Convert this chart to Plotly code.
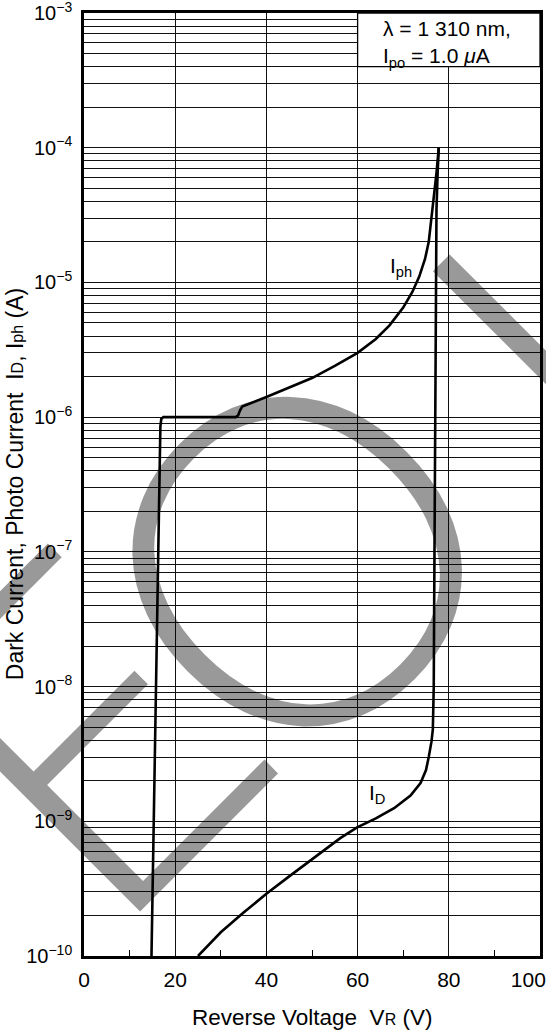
import math
import plotly.graph_objects as go

# ---- data ----
iph_v = [14.8, 15.2, 15.8, 16.3, 16.6, 16.75, 16.95, 17.4, 33.3, 33.8, 34.2, 34.7, 40.0, 45.0, 50.0, 55.0, 60.0, 64.0, 67.0, 70.0, 72.0, 73.5, 74.8, 75.6, 76.2, 76.8, 77.3, 77.8]
iph_i = [1e-10, 6e-10, 1e-8, 1e-7, 4e-7, 8.5e-7, 9.7e-7, 1.0e-6, 1.0e-6, 1.03e-6, 1.12e-6, 1.2e-6, 1.41e-6, 1.65e-6, 1.95e-6, 2.4e-6, 3.0e-6, 3.8e-6, 4.8e-6, 6.5e-6, 8.5e-6, 1.1e-5, 1.5e-5, 2.0e-5, 3.0e-5, 4.5e-5, 6.5e-5, 1.0e-4]

id_v = [25.0, 30.0, 35.0, 40.0, 45.0, 50.0, 56.2, 59.9, 64.0, 68.0, 71.6, 73.8, 75.0, 75.6, 76.2, 76.5, 76.7, 76.8, 76.95, 77.1, 77.3, 77.55, 77.8]
id_i = [1e-10, 1.5e-10, 2.1e-10, 2.9e-10, 3.9e-10, 5.2e-10, 7.5e-10, 9.0e-10, 1.05e-9, 1.25e-9, 1.55e-9, 1.92e-9, 2.4e-9, 3.0e-9, 3.9e-9, 4.8e-9, 1e-8, 4.5e-8, 5e-7, 5e-6, 3.5e-5, 6.5e-5, 1.0e-4]

x_ticks = [0, 20, 40, 60, 80, 100]
x_labels = ["0", "20", "40", "60", "80", "100\u00a0\u00a0\u00a0\u00a0"]
x_minor = [10, 30, 50, 70, 90]
decades = [-10, -9, -8, -7, -6, -5, -4, -3]

# watermark letters and their paper positions
wm_letters = ["E", "O", "L"]
wm_x = [-0.02, 0.443, 1.10]
wm_y = [0.245, 0.43, 0.667]

FONT = "Liberation Sans, Arial, sans-serif"

yvals, ytext = [], []
for d in decades:
    for m in range(1, 10):
        if d == -3 and m > 1:
            break
        yvals.append(m * 10.0 ** d)
        ytext.append("10<sup>\u2212%d</sup>" % (-d) if m == 1 else "")

fig = go.Figure()
fig.add_trace(go.Scatter(x=iph_v, y=iph_i, mode="lines",
                         line=dict(color="black", width=2.6), showlegend=False))
fig.add_trace(go.Scatter(x=id_v, y=id_i, mode="lines",
                         line=dict(color="black", width=2.6), showlegend=False))

# white condition box, top right
fig.add_shape(type="rect", xref="x", yref="y", x0=60, x1=100, y0=4e-4, y1=1e-3,
              fillcolor="white", line=dict(color="black", width=1.3), layer="between")

fig.update_layout(
    width=546, height=1030,
    margin=dict(l=84, r=6, t=13, b=74),
    paper_bgcolor="white", plot_bgcolor="white",
    font=dict(family=FONT, color="black", size=21),
    xaxis=dict(range=[0, 100], tickvals=x_ticks, ticktext=x_labels, ticks="",
               showgrid=True, gridcolor="#111", gridwidth=1.3, zeroline=False,
               showline=True, linecolor="black", linewidth=2.6, mirror=True,
               tickfont=dict(size=21), ticklabelstandoff=3, automargin=False,
               ticklabeloverflow="allow",
               minor=dict(tickvals=x_minor, ticks="inside", ticklen=6,
                          tickwidth=1.3, tickcolor="black", showgrid=False)),
    yaxis=dict(type="log", range=[-10, -3], tickvals=yvals, ticktext=ytext,
               ticks="", showgrid=True, gridcolor="#111", gridwidth=1.3,
               zeroline=False, showline=True, linecolor="black", linewidth=2.6,
               mirror=True, tickfont=dict(size=20), ticklabelstandoff=5,
               automargin=False, ticklabeloverflow="allow"),
)

ann = []
for t, xx, yy in zip(wm_letters, wm_x, wm_y):
    ann.append(dict(text=t, xref="paper", yref="paper", x=xx, y=yy,
                    xanchor="center", yanchor="middle", textangle=-45, showarrow=False,
                    font=dict(size=460, family="Lato, Liberation Sans, sans-serif",
                              weight=300, color="rgba(0,0,0,0.4)")))
ann += [
    dict(text="Reverse Voltage  V<span style='font-size:16px'>R</span> (V)",
         xref="paper", yref="paper", x=0.5, y=-0.065, xanchor="center", yanchor="middle",
         showarrow=False, font=dict(size=22.5)),
    dict(text="Dark Current, Photo Current  I<span style='font-size:16px'>D</span>, I<span style='font-size:16px'>ph</span> (A)",
         xref="paper", yref="paper", x=-0.152, y=0.5, xanchor="center", yanchor="middle",
         textangle=-90, showarrow=False, font=dict(size=23)),
    dict(text="\u03bb = 1 310 nm,<br>I<sub>po</sub> = 1.0 <i>\u03bc</i>A",
         xref="x", yref="paper", x=65.2, y=0.998, xanchor="left", yanchor="top",
         align="left", showarrow=False, font=dict(size=21)),
    dict(text="I<sub>ph</sub>", xref="x", yref="y", x=69.5, y=math.log10(1.3e-5),
         xanchor="center", yanchor="middle", showarrow=False, font=dict(size=21)),
    dict(text="I<sub>D</sub>", xref="x", yref="y", x=64.3, y=math.log10(1.6e-9),
         xanchor="center", yanchor="middle", showarrow=False, font=dict(size=21)),
]
fig.update_layout(annotations=ann)

fig.write_html("out.html", config={"displayModeBar": False},
               post_script="document.body.style.margin='0';")
